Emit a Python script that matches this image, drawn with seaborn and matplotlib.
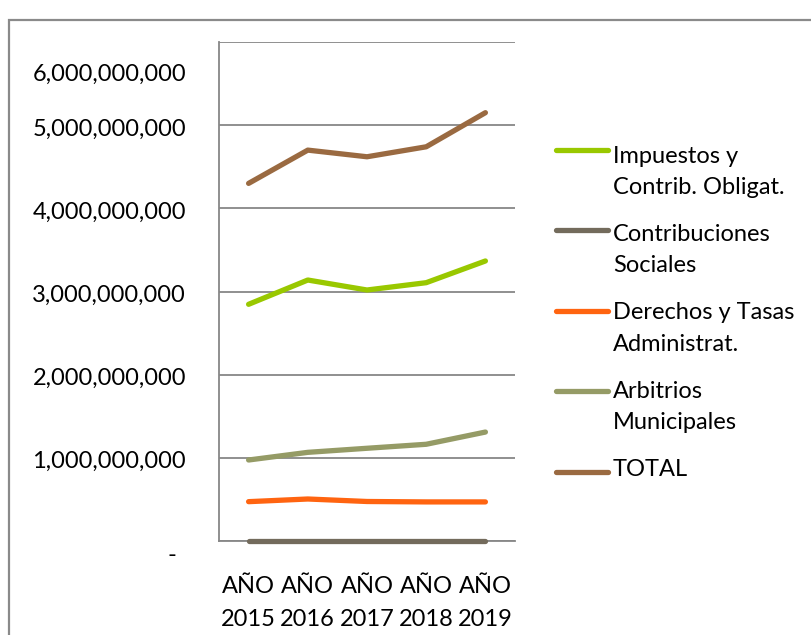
import numpy as np
import pandas as pd
import matplotlib
matplotlib.use("Agg")
import matplotlib.pyplot as plt
import matplotlib.transforms as mtransforms
from matplotlib.lines import Line2D
from matplotlib.patches import Rectangle
import seaborn as sns

# Categories and series
years = ["AÑO\n2015", "AÑO\n2016", "AÑO\n2017", "AÑO\n2018", "AÑO\n2019"]
series_names = [
    "Impuestos y\nContrib. Obligat.",
    "Contribuciones\nSociales",
    "Derechos y Tasas\nAdministrat.",
    "Arbitrios\nMunicipales",
    "TOTAL",
]
impuestos = [2.846e9, 3.138e9, 3.018e9, 3.106e9, 3.367e9]
contribuciones = [2.0e6, 2.0e6, 2.0e6, 2.0e6, 2.0e6]
derechos = [0.473e9, 0.505e9, 0.475e9, 0.470e9, 0.470e9]
arbitrios = [0.974e9, 1.066e9, 1.115e9, 1.163e9, 1.310e9]
total = [4.300e9, 4.700e9, 4.620e9, 4.740e9, 5.150e9]
colors = ["#99C800", "#736B5C", "#FF6410", "#959B66", "#9A6A41"]

ytick_values = [0, 1e9, 2e9, 3e9, 4e9, 5e9, 6e9]
ytick_labels = ["-", "1,000,000,000", "2,000,000,000", "3,000,000,000",
                "4,000,000,000", "5,000,000,000", "6,000,000,000"]

sns.set_style("white")
plt.rcParams["font.family"] = ["Lato", "DejaVu Sans"]

GRAY = "#878787"
FS = 17

W, H = 812, 635
fig = plt.figure(figsize=(W / 100, H / 100), dpi=100)
ax = fig.add_axes([219 / W, 1 - 541 / H, 296 / W, 499 / H])

# Outer chart frame (left and top edges visible)
fig.patches.append(Rectangle((9 / W, -0.1), 1.2, (1 - 20 / H) + 0.1,
                             transform=fig.transFigure, fill=False,
                             ec="#8A8A8A", lw=1.6))

# Long-form table for seaborn
values = [impuestos, contribuciones, derechos, arbitrios, total]
df = pd.DataFrame({
    "pos": np.tile(np.arange(len(years)), len(series_names)),
    "valor": np.concatenate(values),
    "serie": np.repeat(series_names, len(years)),
})

sns.lineplot(data=df, x="pos", y="valor", hue="serie", hue_order=series_names,
             palette=colors, legend=False, errorbar=None, sort=False,
             lw=3.8, solid_capstyle="round", solid_joinstyle="round",
             clip_on=False, zorder=3, ax=ax)

ax.set_xlim(-0.5, len(years) - 0.5)
ax.set_ylim(ytick_values[0], ytick_values[-1])
ax.set_xlabel("")
ax.set_ylabel("")
ax.set_axisbelow(True)

# Gridlines and axis lines
ax.set_yticks(ytick_values)
ax.yaxis.grid(True, color=GRAY, lw=1.3)
ax.xaxis.grid(False)
for side in ("top", "right"):
    ax.spines[side].set_visible(False)
for side in ("left", "bottom"):
    ax.spines[side].set_color(GRAY)
    ax.spines[side].set_linewidth(1.3)
    ax.spines[side].set_zorder(1)

ax.tick_params(axis="y", length=6.5, width=1.3, color=GRAY, direction="out",
               labelleft=False)

ax.set_xticks(np.arange(len(years)))
ax.set_xticklabels(years, fontsize=FS, linespacing=1.75, color="black")
ax.set_xticks(np.arange(-0.5, len(years), 1), minor=True)
ax.tick_params(axis="x", which="major", length=0, pad=25)
ax.tick_params(axis="x", which="minor", length=5, width=1.3, color=GRAY,
               direction="out")

# Value-axis labels
base = ax.get_yaxis_transform()
for v, lab in zip(ytick_values, ytick_labels):
    dx, dy = -33, -2
    if v == ytick_values[-1]:
        dy = -30
    elif v == 0:
        dx, dy = -43, -12
    tr = mtransforms.offset_copy(base, fig=fig, x=dx, y=dy, units="dots")
    ax.text(0, v, lab, transform=tr, ha="right", va="center_baseline",
            fontsize=FS, color="black")

# Legend
for i, (name, col) in enumerate(zip(series_names, colors)):
    ly = 149.5 + 80.6 * i
    fig.add_artist(Line2D([556 / W, 608 / W], [1 - ly / H] * 2,
                          transform=fig.transFigure, color=col, lw=3.8,
                          solid_capstyle="round"))
    base_y = 162.7 + 78.3 * i
    for k, part in enumerate(name.split("\n")):
        fig.text(613 / W, 1 - (base_y + 31.5 * k) / H, part, ha="left",
                 va="baseline", fontsize=FS, color="black")

fig.savefig("out.png", dpi=100)
